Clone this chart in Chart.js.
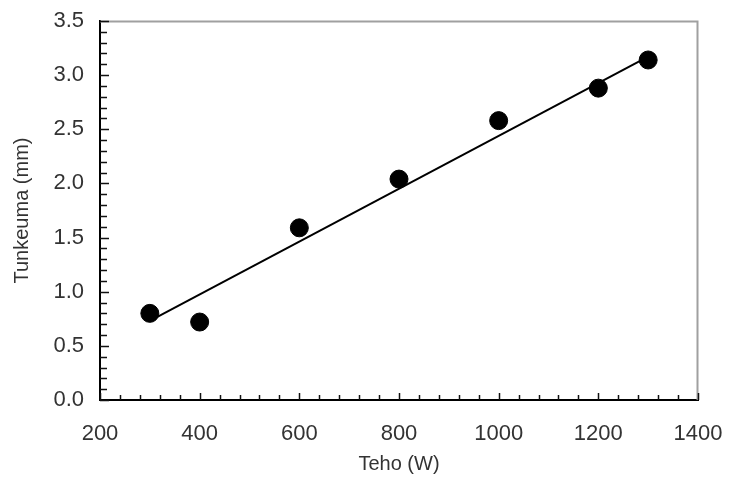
<!DOCTYPE html>
<html>
<head>
<meta charset="utf-8">
<script src="https://cdn.jsdelivr.net/npm/chart.js@4.4.1/dist/chart.umd.min.js"></script>
<style>
    html, body { margin: 0; padding: 0; background: #fff; }
    #wrap { width: 729px; height: 479px; }
</style>
</head>
<body>
<div id="wrap"><canvas id="c"></canvas></div>
<script>
// measured points
const tehoW = [300, 400, 600, 800, 1000, 1200, 1300];
const tunkeumaMm = [0.80, 0.72, 1.59, 2.04, 2.58, 2.88, 3.14];
// fitted line as drawn in the picture
const trendX = [300, 1300];
const trendY = [0.73, 3.17];
// axis labels
const xTickValues = [200, 400, 600, 800, 1000, 1200, 1400];
const yTickValues = [0.0, 0.5, 1.0, 1.5, 2.0, 2.5, 3.0, 3.5];
const xMinorStep = 40;
const yMinorStep = 0.1;

const FONT = "'Liberation Sans', Arial, sans-serif";

// no extra room for overhanging labels, the plot box is fixed by layout padding
const noPad = (s) => { s.paddingLeft = 0; s.paddingRight = 0; s.paddingTop = 0; s.paddingBottom = 0; };

// inward tick marks + grey top/right frame
const frameTicks = {
    id: 'frameTicks',
    beforeDatasetsDraw(chart) {
        const { ctx, chartArea: a, scales: { x, y } } = chart;
        ctx.save();
        ctx.strokeStyle = '#a0a0a0'; ctx.lineWidth = 2;
        ctx.beginPath();
        ctx.moveTo(a.left, a.top + 0.5); ctx.lineTo(a.right - 0.5, a.top + 0.5); ctx.lineTo(a.right - 0.5, a.bottom);
        ctx.stroke();
        ctx.strokeStyle = '#111'; ctx.lineWidth = 1.5;
        ctx.beginPath();
        for (let v = x.min; v <= x.max + 1e-6; v += xMinorStep) {
            const px = Math.round(x.getPixelForValue(v)) + 0.5;
            const major = xTickValues.some((t) => Math.abs(t - v) < 1e-6);
            ctx.moveTo(px, a.bottom); ctx.lineTo(px, a.bottom - (major ? 7 : 5));
        }
        for (let v = y.min; v <= y.max + 1e-6; v += yMinorStep) {
            const py = Math.round(y.getPixelForValue(v)) + 0.5;
            const major = yTickValues.some((t) => Math.abs(t - v) < 1e-6);
            ctx.moveTo(a.left, py); ctx.lineTo(a.left + (major ? 9 : 7), py);
        }
        ctx.stroke();
        ctx.restore();
    },
};

new Chart(document.getElementById('c'), {
    type: 'scatter',
    data: {
        datasets: [
            { data: trendX.map((v, i) => ({ x: v, y: trendY[i] })), showLine: true, borderColor: '#000', borderWidth: 2, pointRadius: 0, order: 2 },
            { data: tehoW.map((v, i) => ({ x: v, y: tunkeumaMm[i] })), backgroundColor: '#000', borderColor: '#000', pointRadius: 9, order: 1 },
        ],
    },
    options: {
        responsive: true, maintainAspectRatio: false, animation: false,
        layout: { padding: { left: 0, top: 21, right: 31, bottom: 0 } },
        plugins: { legend: { display: false }, tooltip: { enabled: false } },
        scales: {
            x: {
                type: 'linear', min: 200, max: 1400,
                afterBuildTicks: (s) => { s.ticks = xTickValues.map((v) => ({ value: v })); },
                afterFit: (s) => { s.height = 79; noPad(s); },
                grid: { display: false, drawTicks: false },
                border: { display: true, color: '#000', width: 2 },
                ticks: { padding: 21, color: '#333', font: { family: FONT, size: 22 }, maxRotation: 0, callback: (v) => String(v) },
                title: { display: true, text: 'Teho (W)', color: '#333', font: { family: FONT, size: 20 }, padding: { top: 0, bottom: 3 } },
            },
            y: {
                type: 'linear', min: 0, max: 3.5,
                afterBuildTicks: (s) => { s.ticks = yTickValues.map((v) => ({ value: v })); },
                afterFit: (s) => { s.width = 100; noPad(s); },
                grid: { display: false, drawTicks: false },
                border: { display: true, color: '#000', width: 2 },
                ticks: { padding: 16, color: '#333', font: { family: FONT, size: 22 }, callback: (v) => Number(v).toFixed(1) },
                title: { display: true, text: 'Tunkeuma (mm)', color: '#333', font: { family: FONT, size: 20 }, padding: { top: 10, bottom: 0 } },
            },
        },
    },
    plugins: [frameTicks],
});
</script>
</body>
</html>
